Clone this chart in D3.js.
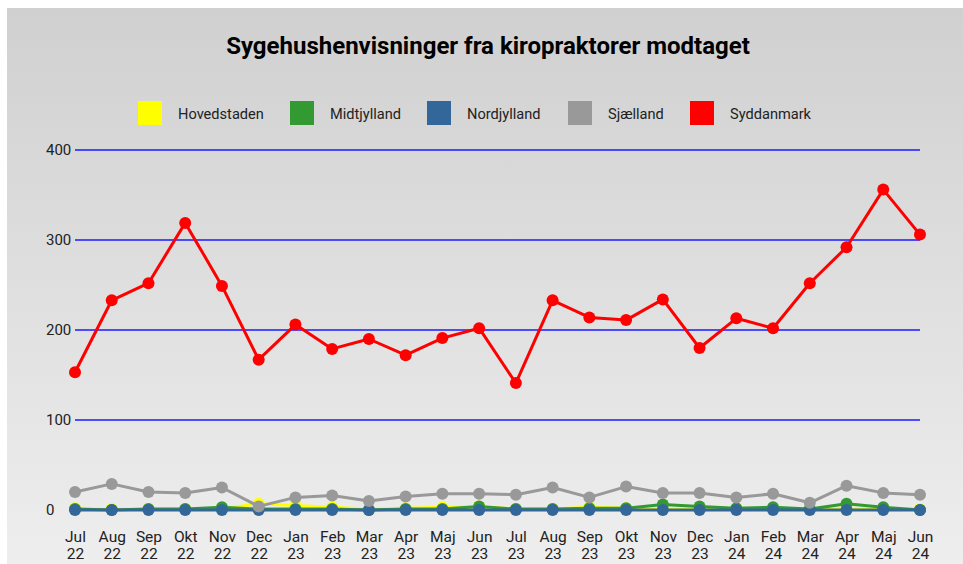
<!DOCTYPE html>
<html><head><meta charset="utf-8">
<script src="https://cdn.jsdelivr.net/npm/d3@7/dist/d3.min.js"></script>
<style>body{margin:0;background:#fff;}svg{display:block;font-family:Roboto,"Noto Sans",sans-serif;}</style>
</head><body><svg id="c" width="963" height="564"></svg>
<script>
const months = ["Jul 22","Aug 22","Sep 22","Okt 22","Nov 22","Dec 22","Jan 23","Feb 23","Mar 23","Apr 23","Maj 23","Jun 23","Jul 23","Aug 23","Sep 23","Okt 23","Nov 23","Dec 23","Jan 24","Feb 24","Mar 24","Apr 24","Maj 24","Jun 24"];
const seriesNames = ["Hovedstaden","Midtjylland","Nordjylland","Sjælland","Syddanmark"];
const seriesColors = ["#ffff00","#339933","#336699","#999999","#ff0000"];
const hovedstaden = [2,1,1,1,1,7,5,3,1,2,3,4,1,1,3,2,1,1,2,1,1,2,1,1];
const midtjylland = [1,0,1,1,3,1,1,1,0,1,1,4,1,1,2,2,6,4,2,3,1,7,3,0];
const nordjylland = [0,0,0,0,0,0,0,0,0,0,0,0,0,0,0,0,0,0,0,0,0,0,0,0];
const sjaelland = [20,29,20,19,25,4,14,16,10,15,18,18,17,25,14,26,19,19,14,18,8,27,19,17];
const syddanmark = [153,233,252,319,249,167,206,179,190,172,191,202,141,233,214,211,234,180,213,202,252,292,356,306];
const yTicks = [0,100,200,300,400];
const seriesData = [hovedstaden, midtjylland, nordjylland, sjaelland, syddanmark];

const svg = d3.select("#c");
const defs = svg.append("defs");
const grad = defs.append("linearGradient").attr("id","bg").attr("x1",0).attr("y1",0).attr("x2",0).attr("y2",1);
grad.append("stop").attr("offset","0%").attr("stop-color","#d0d0d0");
grad.append("stop").attr("offset","100%").attr("stop-color","#eeeeee");
svg.append("rect").attr("x",7).attr("y",8).attr("width",956).attr("height",556).attr("fill","url(#bg)");

svg.append("text").attr("x",488).attr("y",54).attr("text-anchor","middle")
  .attr("font-size",24).attr("font-weight","bold").attr("fill","#000")
  .text("Sygehushenvisninger fra kiropraktorer modtaget");

const legX = [138,290,427,568,690];
seriesNames.forEach((n,i)=>{
  const g = svg.append("g").attr("transform",`translate(${legX[i]},101)`);
  g.append("rect").attr("width",24).attr("height",24).attr("fill",seriesColors[i]);
  g.append("text").attr("x",40).attr("y",18).attr("font-size",14.6).attr("fill","#222").text(n);
});

const x = d3.scalePoint().domain(months).range([75,920]);
const y = d3.scaleLinear().domain([0,400]).range([510,150]);

const grid = svg.append("g");
yTicks.filter(t=>t>0).forEach(t=>{
  grid.append("line").attr("x1",75).attr("x2",920).attr("y1",y(t)).attr("y2",y(t))
    .attr("stroke","#1a1aff").attr("stroke-width",1.5);
});

const yAxis = d3.axisLeft(y).tickValues(yTicks).tickSize(0).tickPadding(0);
const ya = svg.append("g").attr("transform","translate(46,0)").call(yAxis);
ya.select(".domain").remove();
ya.selectAll("text").attr("font-size",15).attr("fill","#222").attr("font-family","Roboto,sans-serif").attr("dy","0.32em").attr("text-anchor","start");

const xAxis = d3.axisBottom(x).tickSize(0).tickPadding(0);
const xa = svg.append("g").attr("transform","translate(0,526)").call(xAxis);
xa.select(".domain").remove();
xa.selectAll("text").each(function(d){
  const t = d3.select(this); const parts = d.split(" ");
  t.text(null).attr("font-size",15.5).attr("fill","#222").attr("font-family","Roboto,sans-serif").attr("dy",null).attr("y",0);
  t.append("tspan").attr("x",0).attr("dy","1.05em").text(parts[0]);
  t.append("tspan").attr("x",0).attr("dy","1.05em").text(parts[1]);
});

const line = d3.line().x((d,i)=>x(months[i])).y(d=>y(d));
seriesData.forEach((s,k)=>{
  const g = svg.append("g");
  g.append("path").datum(s).attr("d",line).attr("fill","none").attr("stroke",seriesColors[k]).attr("stroke-width",3).attr("stroke-linejoin","round");
  g.selectAll("circle").data(s).join("circle").attr("cx",(d,i)=>x(months[i])).attr("cy",d=>y(d)).attr("r",6).attr("fill",seriesColors[k]);
});
</script></body></html>
